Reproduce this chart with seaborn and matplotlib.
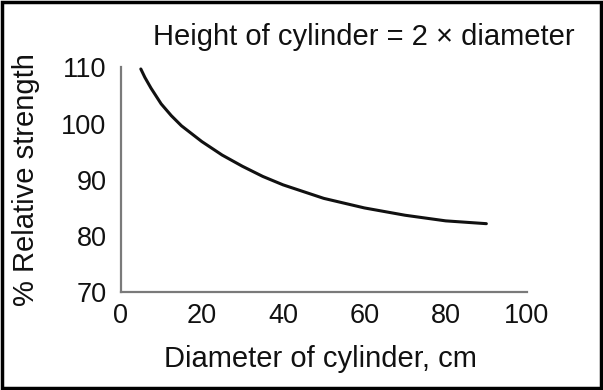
import matplotlib
matplotlib.use("Agg")
import matplotlib.pyplot as plt
import seaborn as sns
import pandas as pd
from matplotlib.patches import Rectangle

# Data
diameter_cm = [5, 6, 7.5, 10, 12.5, 15, 20, 25, 30, 35, 40, 50, 60, 70, 80, 90]
relative_strength = [109.7, 108.2, 106.3, 103.5, 101.4, 99.6, 96.8, 94.4, 92.4, 90.6,
                     89.1, 86.7, 85.0, 83.7, 82.7, 82.2]
x_ticks = [0, 20, 40, 60, 80, 100]
y_ticks = [70, 80, 90, 100, 110]

sns.set_theme(style="white")
plt.rcParams['font.family'] = ['Liberation Sans', 'DejaVu Sans']

df = pd.DataFrame({"d": diameter_cm, "s": relative_strength})

W, H = 603, 390
fig = plt.figure(figsize=(W / 100, H / 100), dpi=100)
ax = fig.add_axes([120.5 / W, 1 - 292.3 / H, (527 - 120.5) / W, (292.3 - 67.3) / H])

sns.lineplot(data=df, x="d", y="s", ax=ax, color="#111111", linewidth=2.2)

ax.set_xlim(0, 100)
ax.set_ylim(70, 110)
ax.set_xticks(x_ticks)
ax.set_yticks(y_ticks)
ax.set_xlabel("")
ax.set_ylabel("")

spine_col = "#7a7a7a"
for side in ["top", "right"]:
    ax.spines[side].set_visible(False)
for side in ["left", "bottom"]:
    ax.spines[side].set_color(spine_col)
    ax.spines[side].set_linewidth(1.6)
ax.tick_params(axis="both", direction="in", length=9.5, width=1.5, color=spine_col,
               labelsize=19.5, labelcolor="#111111")
ax.tick_params(axis="x", pad=8)
ax.tick_params(axis="y", pad=10)

txt = "#111111"
fig.text(320 / W, 1 - 367 / H, "Diameter of cylinder, cm", ha="center", va="baseline",
         fontsize=21, color=txt)
fig.text(26 / W, 1 - 180 / H, "% Relative strength", ha="center", va="center",
         rotation=90, fontsize=21, color=txt)
fig.text(575 / W, 1 - 45 / H, "Height of cylinder = 2 \u00d7 diameter", ha="right", va="baseline",
         fontsize=21, color=txt)

fig.patches.append(Rectangle((0.003, 0.004), 0.994, 0.992, transform=fig.transFigure,
                             fill=False, edgecolor="black", linewidth=2.5))

fig.savefig("out.png", dpi=100)
